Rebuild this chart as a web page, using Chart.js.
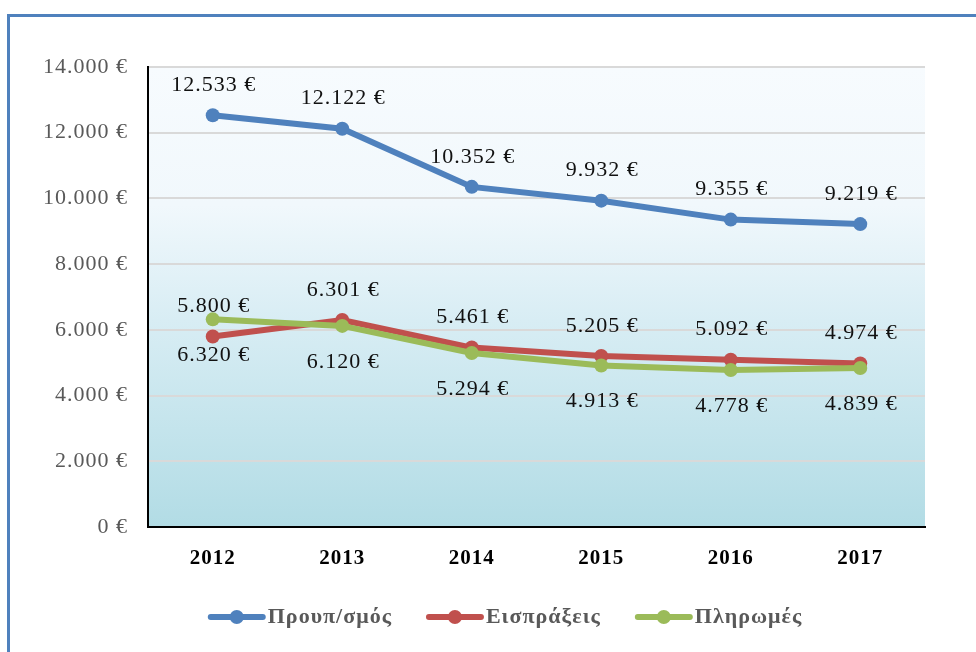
<!DOCTYPE html>
<html>
<head>
<meta charset="utf-8">
<script src="https://cdn.jsdelivr.net/npm/chart.js@4.4.1/dist/chart.umd.min.js"></script>
<style>
  html, body { margin: 0; padding: 0; background: #fff; overflow: hidden; }
  #frame { position: absolute; left: 7px; top: 14px; width: 980px; height: 650px;
           border-left: 3px solid #4f81bd; border-top: 3px solid #4f81bd; }
  #wrap { position: absolute; left: 0; top: 0; width: 976px; height: 652px; }
</style>
</head>
<body>
<div id="frame"></div>
<div id="wrap"><canvas id="plotHere"></canvas></div>
<script>
// data
const years = ["2012", "2013", "2014", "2015", "2016", "2017"];
const budget = [12533, 12122, 10352, 9932, 9355, 9219];      // Προυπ/σμός
const receipts = [5800, 6301, 5461, 5205, 5092, 4974];       // Εισπράξεις
const payments = [6320, 6120, 5294, 4913, 4778, 4839];       // Πληρωμές
const seriesNames = ["Προυπ/σμός", "Εισπράξεις", "Πληρωμές"];
const seriesColors = ["#4f81bd", "#c0504d", "#9bbb59"];
const labelOffsets = [-30, -30, 36]; // label above / below the point

const serif = "'Liberation Serif', 'Times New Roman', serif";

// 1.234 € style
function euro(v) {
	return String(v).replace(/\B(?=(\d{3})+(?!\d))/g, ".") + " €";
}

// text in the picture is a little wide, so space the letters
const spacing = {
	id: "spacing",
	beforeLayout(chart) { chart.ctx.letterSpacing = "1px"; },
	beforeDraw(chart) { chart.ctx.letterSpacing = "1px"; }
};

// plot area background
const background = {
	id: "background",
	beforeDraw(chart) {
		const {ctx, chartArea: a} = chart;
		const gr = ctx.createLinearGradient(0, a.top, 0, a.bottom);
		gr.addColorStop(0, "#f7fbfe");
		gr.addColorStop(0.3, "#f1f8fc");
		gr.addColorStop(0.55, "#d8edf4");
		gr.addColorStop(1, "#b2dce5");
		ctx.save();
		ctx.fillStyle = gr;
		ctx.fillRect(a.left, a.top, a.right - a.left, a.bottom - a.top);
		ctx.restore();
	}
};

// value labels next to the points
const valueLabels = {
	id: "valueLabels",
	afterDatasetsDraw(chart) {
		const ctx = chart.ctx;
		ctx.save();
		ctx.font = "22px " + serif;
		ctx.fillStyle = "#111";
		ctx.textAlign = "center";
		ctx.textBaseline = "middle";
		chart.data.datasets.forEach((ds, i) => {
			chart.getDatasetMeta(i).data.forEach((pt, j) => {
				ctx.fillText(euro(ds.data[j]), pt.x + 1, pt.y + labelOffsets[i]);
			});
		});
		ctx.restore();
	}
};

// legend under the axis: line with a dot, then the name
const lineLegend = {
	id: "lineLegend",
	afterDraw(chart) {
		const ctx = chart.ctx;
		const y = 617, icon = 58, gap = 2, between = 34;
		ctx.save();
		ctx.font = "bold 22px " + serif;
		const widths = seriesNames.map(s => ctx.measureText(s).width);
		const total = widths.reduce((a, w) => a + icon + gap + w, 0) + between * (seriesNames.length - 1);
		let x = 505 - total / 2;
		seriesNames.forEach((name, i) => {
			ctx.strokeStyle = seriesColors[i];
			ctx.fillStyle = seriesColors[i];
			ctx.lineWidth = 6;
			ctx.lineCap = "round";
			ctx.beginPath(); ctx.moveTo(x + 3, y); ctx.lineTo(x + icon - 3, y); ctx.stroke();
			ctx.beginPath(); ctx.arc(x + icon / 2, y, 7, 0, Math.PI * 2); ctx.fill();
			ctx.fillStyle = "#595959";
			ctx.textAlign = "left";
			ctx.textBaseline = "middle";
			ctx.fillText(name, x + icon + gap, y);
			x += icon + gap + widths[i] + between;
		});
		ctx.restore();
	}
};

function line(i, data, order) {
	return {
		label: seriesNames[i],
		data: data,
		order: order,
		borderColor: seriesColors[i],
		backgroundColor: seriesColors[i],
		borderWidth: 6,
		pointRadius: 7,
		pointBorderWidth: 0,
		tension: 0,
		fill: false
	};
}

window.addEventListener("load", function () {
	new Chart(document.getElementById("plotHere"), {
		type: "line",
		data: {
			labels: years,
			datasets: [line(0, budget, 0), line(1, receipts, 2), line(2, payments, 1)]
		},
		plugins: [spacing, background, valueLabels, lineLegend],
		options: {
			responsive: true,
			maintainAspectRatio: false,
			animation: false,
			layout: { padding: { left: 20, right: 51, top: 67, bottom: 0 } },
			plugins: {
				tooltip: { enabled: false },
				legend: { display: false }
			},
			scales: {
				x: {
					offset: true,
					grid: { display: false },
					border: { color: "#000", width: 2 },
					ticks: { padding: 11, color: "#000", font: { family: serif, size: 21, weight: "bold" } },
					afterFit(s) { s.height = 125; }
				},
				y: {
					min: 0, max: 14000,
					grid: { color: "#d9d9d9", lineWidth: 2, drawTicks: false },
					border: { color: "#000", width: 2 },
					ticks: { stepSize: 2000, padding: 20, color: "#595959",
					         font: { family: serif, size: 22 }, callback: v => euro(v) },
					afterFit(s) { s.width = 128; }
				}
			}
		}
	});
});
</script>
</body>
</html>
